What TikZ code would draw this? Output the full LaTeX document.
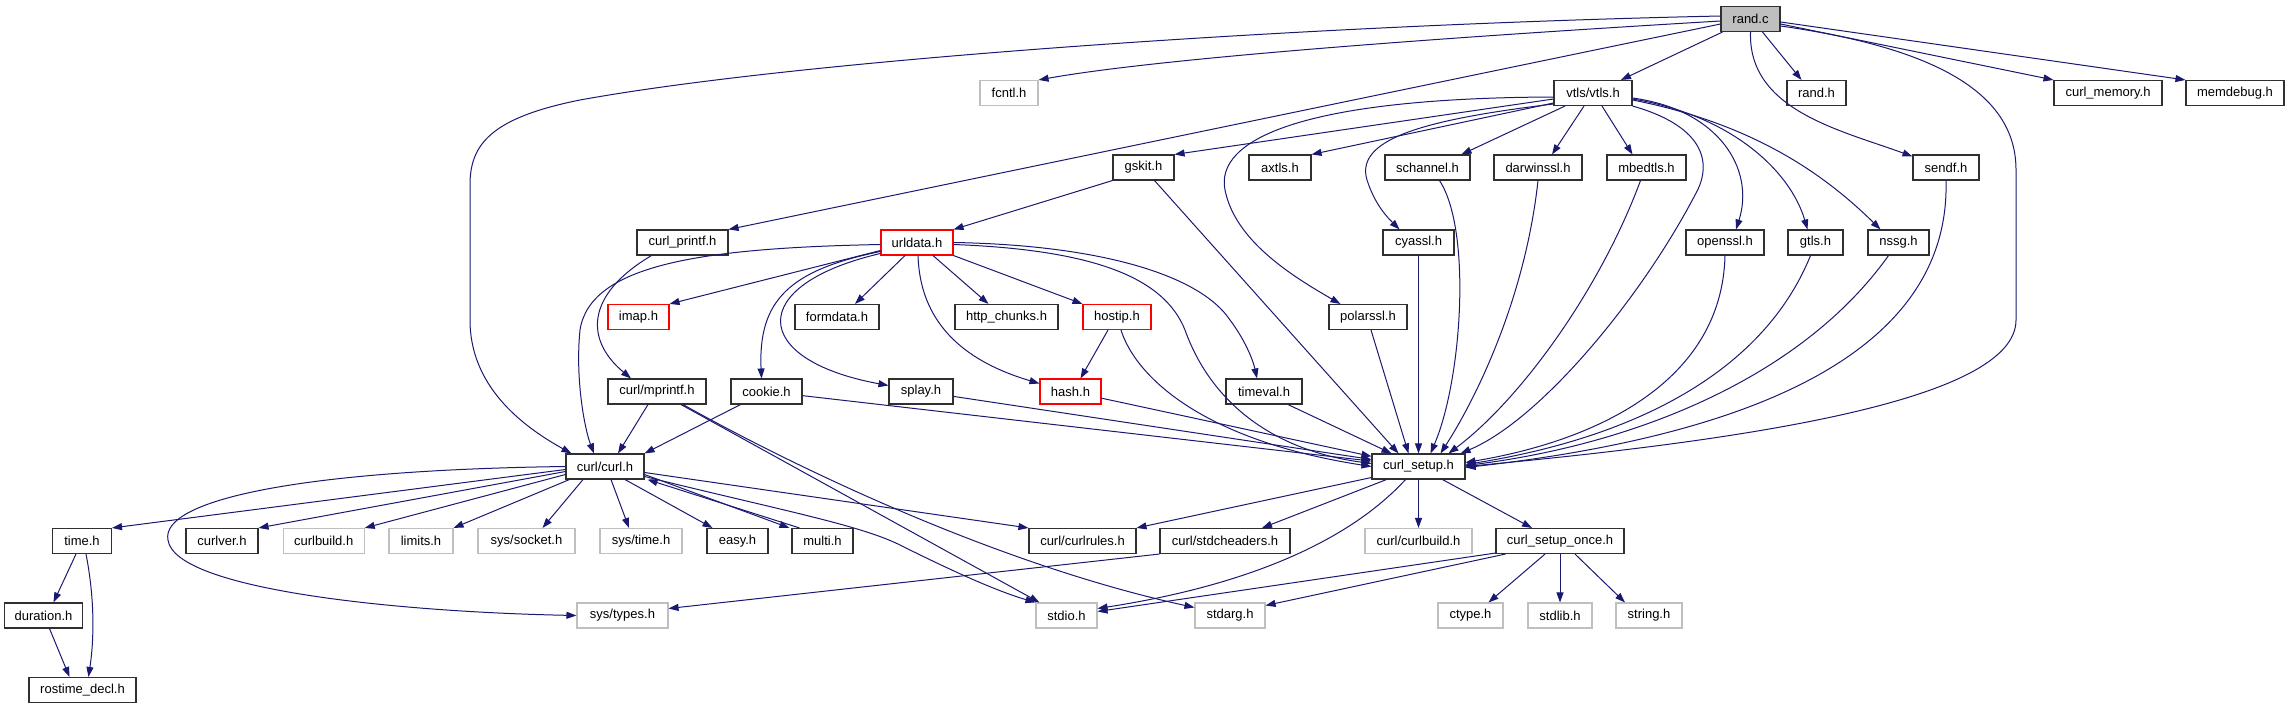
\documentclass[tikz,border=0pt]{standalone}
\usepackage{fontspec}
\setmainfont{Liberation Sans}
\usetikzlibrary{arrows.meta,calc}
\definecolor{edgeblue}{HTML}{191970}
\definecolor{grayline}{HTML}{BFBFBF}
\definecolor{grayfill}{HTML}{BFBFBF}
\definecolor{boxline}{HTML}{303030}
\newcommand{\lblfont}{\fontsize{13}{15}\selectfont}
\tikzset{
  nb/.style={rectangle, draw=boxline, line width=1.1pt, fill=white, minimum height=25pt, inner sep=0pt, font=\lblfont},
  ng/.style={nb, draw=grayline},
  nr/.style={nb, draw=red},
  e/.style={draw=edgeblue, line width=1pt, -{Triangle[length=10pt,width=7pt]}}
}
\begin{document}
\begin{tikzpicture}[x=1pt,y=-1pt]
\useasboundingbox (0,0) rectangle (2291,709);
% row 1
\node[nb, fill=grayfill, minimum width=59pt] (randc) at (1750.5,19) {rand.c};
% row 2
\node[ng, minimum width=58pt] (fcntl) at (1009,93) {fcntl.h};
\node[nb, minimum width=59pt] (randh) at (1816.5,93) {rand.h};
\node[nb, minimum width=108pt] (curlmem) at (2108,93) {curl\_memory.h};
\node[nb, minimum width=98pt] (memdebug) at (2235,93) {memdebug.h};
\node[nb, minimum width=78pt] (vtls) at (1593,93) {vtls/vtls.h};
% row 3
\node[nb, minimum width=61pt] (gskit) at (1143.5,167.5) {gskit.h};
\node[nb, minimum width=62pt] (axtls) at (1280,167.5) {axtls.h};
\node[nb, minimum width=85pt] (schannel) at (1427.5,167.5) {schannel.h};
\node[nb, minimum width=88pt] (darwin) at (1538,167.5) {darwinssl.h};
\node[nb, minimum width=79pt] (mbedtls) at (1646.5,167.5) {mbedtls.h};
\node[nb, minimum width=66pt] (sendf) at (1946,167.5) {sendf.h};
% row 4
\node[nb, minimum width=91pt] (curlprintf) at (682.5,242.5) {curl\_printf.h};
\node[nr, minimum width=72pt] (urldata) at (917,242.5) {urldata.h};
\node[nb, minimum width=71pt] (cyassl) at (1418.5,242.5) {cyassl.h};
\node[nb, minimum width=78pt] (openssl) at (1725,242.5) {openssl.h};
\node[nb, minimum width=55pt] (gtls) at (1815.5,242.5) {gtls.h};
\node[nb, minimum width=61pt] (nssg) at (1898.5,242.5) {nssg.h};
% row 5
\node[nr, minimum width=61pt] (imap) at (638.5,317) {imap.h};
\node[nb, minimum width=84pt] (formdata) at (837,317) {formdata.h};
\node[nb, minimum width=103pt] (httpch) at (1006.5,317) {http\_chunks.h};
\node[nr, minimum width=68pt] (hostip) at (1117,317) {hostip.h};
\node[nb, minimum width=78pt] (polarssl) at (1368,317) {polarssl.h};
% row 6
\node[nb, minimum width=98pt] (mprintf) at (657,391.5) {curl/mprintf.h};
\node[nb, minimum width=71pt] (cookie) at (766.5,391.5) {cookie.h};
\node[nb, minimum width=64pt] (splay) at (921,391.5) {splay.h};
\node[nr, minimum width=61pt] (hash) at (1070.5,391.5) {hash.h};
\node[nb, minimum width=76pt] (timeval) at (1264,391.5) {timeval.h};
% row 7
\node[nb, minimum width=78pt] (curlh) at (605,466.5) {curl/curl.h};
\node[nb, minimum width=93pt] (setup) at (1418.5,466.5) {curl\_setup.h};
% row 8
\node[nb, minimum width=59pt] (timeh) at (82,541) {time.h};
\node[nb, minimum width=72pt] (curlver) at (222,541) {curlver.h};
\node[ng, minimum width=81pt] (curlbuild) at (323.7,541) {curlbuild.h};
\node[ng, minimum width=64pt] (limits) at (421,541) {limits.h};
\node[ng, minimum width=97pt] (syssocket) at (526.5,541) {sys/socket.h};
\node[ng, minimum width=82pt] (systime) at (641,541) {sys/time.h};
\node[nb, minimum width=61pt] (easy) at (737.5,541) {easy.h};
\node[nb, minimum width=61pt] (multi) at (822.5,541) {multi.h};
\node[nb, minimum width=107pt] (curlrules) at (1082.5,541) {curl/curlrules.h};
\node[nb, minimum width=130pt] (stdch) at (1225,541) {curl/stdcheaders.h};
\node[ng, minimum width=107pt] (curlbuild2) at (1418.5,541) {curl/curlbuild.h};
\node[nb, minimum width=128pt] (setuponce) at (1560,541) {curl\_setup\_once.h};
% row 9
\node[nb, minimum width=78pt] (duration) at (43.5,615.5) {duration.h};
\node[ng, minimum width=91pt] (systypes) at (622.5,615.5) {sys/types.h};
\node[ng, minimum width=61pt] (stdio) at (1066.5,615.5) {stdio.h};
\node[ng, minimum width=70pt] (stdarg) at (1230,615.5) {stdarg.h};
\node[ng, minimum width=65pt] (ctype) at (1470.5,615.5) {ctype.h};
\node[ng, minimum width=64pt] (stdlib) at (1560,615.5) {stdlib.h};
\node[ng, minimum width=66pt] (stringh) at (1649,615.5) {string.h};
% row 10
\node[nb, minimum width=107pt] (rostime) at (82.5,690) {rostime\_decl.h};

% ---- edges from rand.c
\draw[e] ($(randc.west)+(0,-3)$) .. controls (1300,25) and (800,60) .. (580,100) .. controls (490,118) and (470,145) .. (470,185) -- (470,320) .. controls (470,385) and (520,425) .. ($(curlh.north west)+(6,0)$);
\draw[e] ($(randc.west)+(0,2)$) .. controls (1400,40) and (1150,60) .. (fcntl.north east);
\draw[e] ($(randc.west)+(0,5)$) -- (curlprintf.north east);
\draw[e] ($(randc.south west)+(2,0)$) -- ($(vtls.north)+(28,0)$);
\draw[e] ($(randc.south)+(12,0)$) -- ($(randh.north)+(-15,0)$);
\draw[e] (randc.south) .. controls (1748,110) and (1840,130) .. ($(sendf.north west)+(0,2)$);
\draw[e] ($(randc.east)+(0,5)$) -- (curlmem.north west);
\draw[e] ($(randc.east)+(0,3)$) -- (memdebug.north west);
\draw[e] ($(randc.east)+(0,7)$) .. controls (1950,50) and (2016,100) .. (2016,170) -- (2016,320) .. controls (2016,400) and (1750,440) .. (setup.east);

% ---- edges from vtls
\draw[e] ($(vtls.west)+(0,6)$) -- (gskit.north east);
\draw[e] ($(vtls.west)+(0,10)$) -- (axtls.north east);
\draw[e] ($(vtls.south)+(-28,0)$) -- ($(schannel.north)+(34,0)$);
\draw[e] ($(vtls.south)+(-9,0)$) -- ($(darwin.north)+(14,0)$);
\draw[e] ($(vtls.south)+(9,0)$) -- ($(mbedtls.north)+(-14,0)$);
\draw[e] ($(vtls.west)+(0,11)$) .. controls (1420,120) and (1355,140) .. (1367,180) .. controls (1375,205) and (1388,218) .. ($(cyassl.north)+(-19,0)$);
\draw[e] ($(vtls.west)+(0,4)$) .. controls (1300,98) and (1215,140) .. (1225,190) .. controls (1235,240) and (1290,275) .. ($(polarssl.north west)+(12,0)$);
\draw[e] ($(vtls.east)+(0,5)$) .. controls (1720,110) and (1755,170) .. ($(openssl.north)+(11,0)$);
\draw[e] ($(vtls.east)+(0,6)$) .. controls (1730,115) and (1790,170) .. ($(gtls.north)+(-8,0)$);
\draw[e] ($(vtls.east)+(0,7)$) .. controls (1760,125) and (1830,180) .. ($(nssg.north)+(-18,0)$);
\draw[e] (vtls.south east) .. controls (1700,125) and (1715,160) .. (1695,195) .. controls (1640,300) and (1540,420) .. ($(setup.north east)+(-5,0)$);

% ---- into curl_setup from row 3/4
\draw[e] (gskit.south west) -- (urldata.north east);
\draw[e] ($(gskit.south)+(11,0)$) -- ($(setup.north)+(-20,0)$);
\draw[e] ($(schannel.south)+(12,0)$) .. controls (1472,230) and (1462,380) .. ($(setup.north)+(12,0)$);
\draw[e] (darwin.south) .. controls (1525,300) and (1475,400) .. ($(setup.north)+(22,0)$);
\draw[e] ($(mbedtls.south)+(-6,0)$) .. controls (1600,290) and (1520,400) .. ($(setup.north)+(30,0)$);
\draw[e] (cyassl.south) -- (setup.north);
\draw[e] ($(polarssl.south)+(3,0)$) -- ($(setup.north)+(-10,0)$);
\draw[e] (openssl.south) .. controls (1722,380) and (1600,440) .. ($(setup.east)+(0,-4)$);
\draw[e] ($(gtls.south)+(-5,0)$) .. controls (1760,380) and (1620,440) .. ($(setup.east)+(0,-2)$);
\draw[e] ($(nssg.south)+(-10,0)$) .. controls (1800,380) and (1630,445) .. ($(setup.east)+(0,-1)$);
\draw[e] (sendf.south) .. controls (1950,330) and (1800,430) .. ($(setup.east)+(0,1)$);

% ---- curl_printf
\draw[e] ($(curlprintf.south)+(-31,0)$) .. controls (585,295) and (585,340) .. ($(mprintf.north)+(-26,0)$);

% ---- urldata
\draw[e] ($(urldata.west)+(0,2)$) .. controls (700,248) and (590,265) .. (580,330) .. controls (575,380) and (585,430) .. ($(curlh.north)+(-11,0)$);
\draw[e] ($(urldata.west)+(0,8)$) -- (imap.north east);
\draw[e] ($(urldata.south)+(-12,0)$) -- ($(formdata.north)+(18,0)$);
\draw[e] ($(urldata.south)+(16,0)$) -- ($(httpch.north)+(-18,0)$);
\draw[e] (urldata.south east) -- (hostip.north west);
\draw[e] ($(urldata.south)+(1,0)$) .. controls (920,320) and (960,360) .. ($(hash.west)+(0,-8)$);
\draw[e] ($(urldata.west)+(0,9)$) .. controls (790,270) and (758,300) .. ($(cookie.north)+(-5,0)$);
\draw[e] ($(urldata.west)+(0,11)$) .. controls (745,285) and (750,360) .. ($(splay.west)+(0,-6)$);
\draw[e] (urldata.east) .. controls (1100,245) and (1200,275) .. (1230,320) .. controls (1245,340) and (1253,360) .. ($(timeval.north)+(-7,0)$);
\draw[e] ($(urldata.east)+(0,2)$) .. controls (1100,250) and (1165,280) .. (1185,330) .. controls (1210,400) and (1270,450) .. ($(setup.west)+(0,-3)$);

% ---- hostip, hash, splay, cookie, timeval
\draw[e] ($(hostip.south)+(-9,0)$) -- ($(hash.north)+(10,0)$);
\draw[e] ($(hostip.south)+(4,0)$) .. controls (1135,375) and (1200,440) .. ($(setup.west)+(0,0)$);
\draw[e] (hash) -- (setup);
\draw[e] (splay) -- (setup);
\draw[e] (cookie) -- (setup);
\draw[e] ($(timeval.south)+(24,0)$) -- ($(setup.north)+(-27,0)$);
\draw[e] ($(cookie.south)+(-26,0)$) -- (curlh.north east);

% ---- mprintf
\draw[e] ($(mprintf.south)+(-9,0)$) -- ($(curlh.north)+(13,0)$);
\draw[e] ($(mprintf.south)+(24,0)$) -- ($(stdio.north west)+(4,0)$);
\draw[e] ($(mprintf.south)+(26,0)$) .. controls (800,470) and (1000,565) .. ($(stdarg.west)+(0,-8)$);

% ---- curl/curl.h
\draw[e] ($(curlh.west)+(0,3)$) -- (timeh.north east);
\draw[e] ($(curlh.west)+(0,5)$) -- (curlver.north east);
\draw[e] ($(curlh.west)+(0,8)$) -- (curlbuild.north east);
\draw[e] ($(curlh.south west)+(4,0)$) -- (limits.north east);
\draw[e] ($(curlh.south)+(-22,0)$) -- ($(syssocket.north)+(16,0)$);
\draw[e] ($(curlh.south)+(6,0)$) -- ($(systime.north)+(-12,0)$);
\draw[e] ($(curlh.south)+(20,0)$) -- ($(easy.north)+(-25,0)$);
\draw[e] ($(curlh.east)+(0,8)$) -- ($(multi.north west)+(-2,0)$);
\draw[e] ($(multi.north west)+(8,0)$) -- ($(curlh.south east)+(3,0)$);
\draw[e] ($(curlh.east)+(0,6)$) -- (curlrules.north west);
\draw[e] ($(curlh.east)+(0,10)$) .. controls (780,510) and (860,525) .. (900,545) .. controls (960,575) and (1000,592) .. (stdio.north west);
\draw[e] (curlh.west) .. controls (300,470) and (160,500) .. (168,540) .. controls (175,590) and (400,612) .. (systypes.west);

% ---- curl_setup.h
\draw[e] ($(setup.west)+(0,11)$) -- (curlrules.north east);
\draw[e] ($(setup.south)+(-32,0)$) -- ($(stdch.north)+(37,0)$);
\draw[e] (setup.south) -- (curlbuild2.north);
\draw[e] ($(setup.south)+(24,0)$) -- ($(setuponce.north)+(-28,0)$);
\draw[e] ($(setup.south)+(-13,0)$) .. controls (1350,540) and (1250,585) .. ($(stdio.east)+(0,-7)$);
\draw[e] (stdch.south west) -- ($(systypes.east)+(0,-7)$);

% ---- curl_setup_once.h
\draw[e] ($(setuponce.south west)+(0,-1)$) -- ($(stdio.east)+(0,-4)$);
\draw[e] ($(setuponce.south west)+(10,0)$) -- ($(stdarg.east)+(0,-10)$);
\draw[e] ($(setuponce.south)+(-15,0)$) -- ($(ctype.north)+(18,0)$);
\draw[e] (setuponce.south) -- (stdlib.north);
\draw[e] ($(setuponce.south)+(15,0)$) -- ($(stringh.north)+(-24,0)$);

% ---- time.h
\draw[e] ($(timeh.south)+(-6,0)$) -- ($(duration.north)+(10,0)$);
\draw[e] ($(timeh.south)+(4,0)$) .. controls (95,600) and (94,640) .. ($(rostime.north)+(6,0)$);
\draw[e] ($(duration.south)+(6,0)$) -- ($(rostime.north)+(-13,0)$);
\end{tikzpicture}
\end{document}
